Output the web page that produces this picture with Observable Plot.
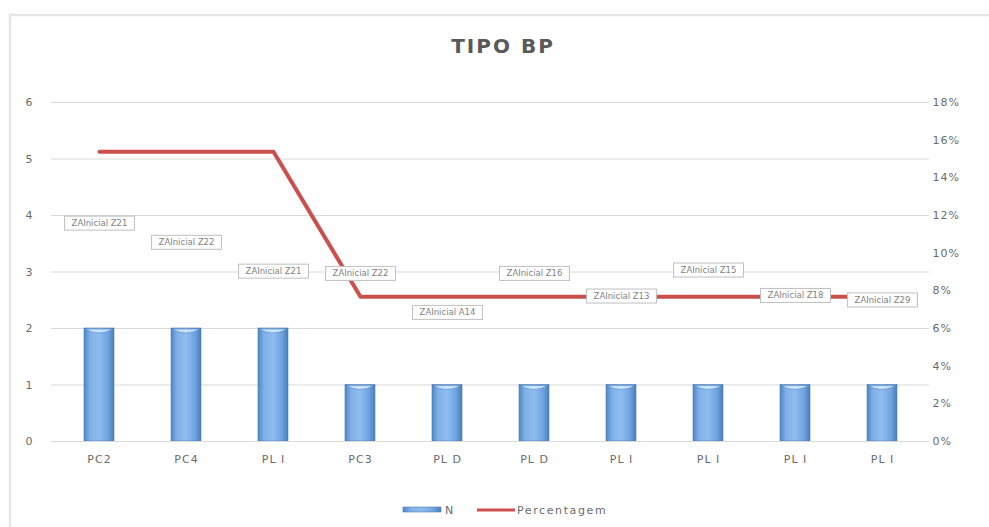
<!DOCTYPE html>
<html>
<head>
<meta charset="utf-8">
<script src="https://cdn.jsdelivr.net/npm/d3@7"></script>
<script src="https://cdn.jsdelivr.net/npm/@observablehq/plot@0.6"></script>
<style>
  html, body { margin: 0; padding: 0; background: #fff; }
  #chart { width: 989px; height: 527px; position: relative; overflow: hidden; }
  svg { font-family: "DejaVu Sans", sans-serif; }
</style>
</head>
<body>
<div id="chart"></div>
<script>
// ---- data ----
const categories = ["PC2", "PC4", "PL I", "PC3", "PL D", "PL D", "PL I", "PL I", "PL I", "PL I"];
const nValues = [2, 2, 2, 1, 1, 1, 1, 1, 1, 1];
const pctValues = [0.1538, 0.1538, 0.1538, 0.0769, 0.0769, 0.0769, 0.0769, 0.0769, 0.0769, 0.0769];
const labels = ["ZAInicial Z21", "ZAInicial Z22", "ZAInicial Z21", "ZAInicial Z22", "ZAInicial A14",
                "ZAInicial Z16", "ZAInicial Z13", "ZAInicial Z15", "ZAInicial Z18", "ZAInicial Z29"];
const labelLevels = [3.86, 3.52, 3.01, 2.97, 2.28, 2.97, 2.57, 3.03, 2.58, 2.5];
const leftTicks = [0, 1, 2, 3, 4, 5, 6];
const pctTicks = [0, 2, 4, 6, 8, 10, 12, 14, 16, 18];
const title = "TIPO BP";
const seriesNames = ["N", "Percentagem"];

const pctMax = 18; // right axis max (%) aligned to left max 6
const leftMax = 6;
const keys = categories.map((c, i) => i);
const rows = keys.map(i => ({
  key: i, cat: categories[i], n: nValues[i],
  pctY: pctValues[i] * 100 * leftMax / pctMax,
  label: labels[i], ly: labelLevels[i]
}));

const W = 989, H = 527;
const gray = "#595959";

const plot = Plot.plot({
  width: W, height: H,
  marginLeft: 51, marginRight: 60, marginTop: 102, marginBottom: 86,
  style: { background: "transparent", fontSize: "11px", color: gray, overflow: "visible" },
  x: { type: "band", domain: keys, paddingInner: 0.66, paddingOuter: 0.33, align: 0.5 },
  y: { domain: [0, leftMax] },
  marks: [
    Plot.gridY(leftTicks, { stroke: "#d9d9d9", strokeOpacity: 1, strokeWidth: 1 }),
    Plot.axisY(leftTicks, { anchor: "left", tickSize: 0, tickPadding: 18, fill: "#6b6b6b", fontSize: 11, label: null,
      tickFormat: d3.format("d"), className: "ticktext" }),
    Plot.axisY(pctTicks.map(p => p * leftMax / pctMax), {
      anchor: "right", tickSize: 0, tickPadding: 3, fill: "#6b6b6b", fontSize: 11, label: null,
      tickFormat: d => Math.round(d * pctMax / leftMax) + "%", className: "ticktext"
    }),
    Plot.axisX({ anchor: "bottom", tickSize: 0, tickPadding: 14, fill: "#6b6b6b", fontSize: 11, label: null,
      tickFormat: i => categories[i], className: "ticktext" }),
    Plot.barY(rows, { x: "key", y: "n", fill: "url(#barGrad)", stroke: "#4a7ebb", strokeWidth: 0.6, className: "bars" }),
    Plot.ruleY([0], { stroke: "#d9d9d9" }),
    Plot.line(rows, { x: "key", y: "pctY", stroke: "#c9504c", strokeWidth: 4, curve: "linear" }),
    Plot.text(rows, { x: "key", y: "ly", text: "label", fill: "#7f7f7f", fontSize: 8.5, className: "dlabels" })
  ]
});

const svg = d3.select(plot);
// gradient defs
const defs = svg.insert("defs", ":first-child");
const g = defs.append("linearGradient").attr("id", "barGrad").attr("x1", 0).attr("y1", 0).attr("x2", 1).attr("y2", 0);
g.append("stop").attr("offset", "0%").attr("stop-color", "#4f86c6");
g.append("stop").attr("offset", "20%").attr("stop-color", "#7fb0e6");
g.append("stop").attr("offset", "50%").attr("stop-color", "#8fbdf0");
g.append("stop").attr("offset", "80%").attr("stop-color", "#6fa3df");
g.append("stop").attr("offset", "100%").attr("stop-color", "#4a7ebb");

document.getElementById("chart").appendChild(plot);

// widen tick text slightly
svg.selectAll("g.ticktext text").attr("letter-spacing", "1px");

// boxes behind data labels
svg.selectAll("g.dlabels text").each(function () {
  const b = this.getBBox();
  const tr = this.getAttribute("transform");
  const r = d3.select(this.parentNode).insert("rect", () => this)
    .attr("x", b.x - 7).attr("y", b.y - 2)
    .attr("width", b.width + 14).attr("height", b.height + 4)
    .attr("fill", "#fff").attr("stroke", "#bfbfbf").attr("stroke-width", 1);
  if (tr) r.attr("transform", tr);
});

// top highlight on bars
svg.selectAll("g.bars rect").each(function () {
  const x = +this.getAttribute("x"), y = +this.getAttribute("y"), w = +this.getAttribute("width");
  d3.select(this.parentNode).append("path")
    .attr("d", `M${x + 1},${y + 1} H${x + w - 1} Q${x + w / 2},${y + 9} ${x + 1},${y + 1}Z`)
    .attr("fill", "#d6ebff").attr("opacity", 0.85);
});

// outer frame
svg.append("path").attr("d", `M10,${H + 5} V15 H${W + 5}`).attr("fill", "none")
  .attr("stroke", "#e6e6e6").attr("stroke-width", 2.5);

// title
svg.append("text").attr("x", 503).attr("y", 53).attr("text-anchor", "middle")
  .attr("font-size", 20).attr("font-weight", "bold").attr("letter-spacing", "2px")
  .attr("fill", gray).text(title);

// legend
const lg = svg.append("g").attr("font-size", 11).attr("fill", "#6b6b6b").attr("text-anchor", "start");
lg.append("rect").attr("x", 403).attr("y", 507).attr("width", 38).attr("height", 5)
  .attr("fill", "url(#barGrad)").attr("stroke", "#4a7ebb").attr("stroke-width", 0.6);
lg.append("text").attr("x", 445).attr("y", 514).text(seriesNames[0]);
lg.append("line").attr("x1", 477).attr("x2", 515).attr("y1", 510).attr("y2", 510)
  .attr("stroke", "#c9504c").attr("stroke-width", 3);
lg.append("text").attr("x", 517).attr("y", 514).attr("letter-spacing", "1.6px").text(seriesNames[1]);
</script>
</body>
</html>
